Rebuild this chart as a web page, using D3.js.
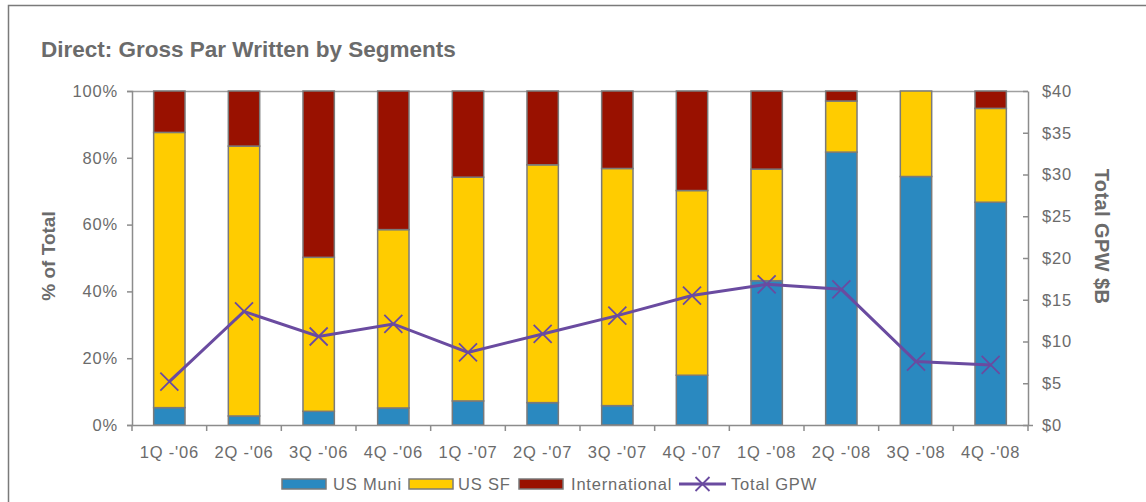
<!DOCTYPE html>
<html><head><meta charset="utf-8">
<script src="https://cdn.jsdelivr.net/npm/d3@7/dist/d3.min.js"></script>
<style>
body{margin:0;background:#fff;}
svg{display:block;font-family:"Liberation Sans",Arial,sans-serif;}
</style></head>
<body><svg id="c" width="1146" height="502"></svg>
<script>
const categories = ["1Q -'06","2Q -'06","3Q -'06","4Q -'06","1Q -'07","2Q -'07","3Q -'07","4Q -'07","1Q -'08","2Q -'08","3Q -'08","4Q -'08"];
const usMuni = [5.2, 2.7, 4.1, 5.1, 7.2, 6.7, 5.8, 14.9, 43.2, 81.7, 74.4, 66.7];
const usSF   = [82.4, 80.8, 46.1, 53.4, 67.0, 71.2, 71.0, 55.3, 33.4, 15.3, 25.6, 28.1];
const international = usMuni.map((m,i)=>+(100 - m - usSF[i]).toFixed(1));
const totalGPW = [5.2, 13.6, 10.6, 12.1, 8.7, 10.9, 13.1, 15.5, 16.85, 16.25, 7.6, 7.2];
const leftTicks = [0,20,40,60,80,100];
const rightTicks = [0,5,10,15,20,25,30,35,40];
const seriesNames = ["US Muni","US SF","International"];
const colors = {"US Muni":"#2A89C0","US SF":"#FFCC00","International":"#991100"};
const lineColor = "#6A4BA0";
const textColor = "#6B6B6B";
const axisColor = "#8C8C8C";
const FS = 16.5, LS = 0.8;

const svg = d3.select("#c");
const L=132, R=1028, T=91, B=425;

// outer border
svg.append("rect").attr("x",8.5).attr("y",5.5).attr("width",1160).attr("height",520)
  .attr("fill","none").attr("stroke","#7a7a7a").attr("stroke-width",1.5);

svg.append("text").attr("x",41).attr("y",57).attr("fill",textColor)
  .attr("font-size",22.5).attr("font-weight","bold")
  .text("Direct: Gross Par Written by Segments");

const x = d3.scaleBand().domain(categories).range([L,R]).paddingInner(0.58).paddingOuter(0.29);
const xb = d3.scaleBand().domain(categories).range([L,R]);
const yL = d3.scaleLinear().domain([0,100]).range([B,T]);
const yR = d3.scaleLinear().domain([0,40]).range([B,T]);

// top line at 100%
svg.append("line").attr("x1",L).attr("x2",R).attr("y1",T+0.5).attr("y2",T+0.5)
  .attr("stroke","#a0a0a0").attr("stroke-width",1.5);

const rows = categories.map((c,i)=>({cat:c,"US Muni":usMuni[i],"US SF":usSF[i],"International":international[i]}));
const stack = d3.stack().keys(seriesNames)(rows);
svg.append("g").selectAll("g").data(stack).join("g")
  .attr("fill",d=>colors[d.key])
  .selectAll("rect").data(d=>d).join("rect")
  .attr("x",d=>x(d.data.cat)).attr("width",x.bandwidth())
  .attr("y",d=>yL(Math.min(100,d[1]))).attr("height",d=>Math.max(0,yL(d[0])-yL(Math.min(100,d[1]))))
  .attr("stroke","#7a7a7a").attr("stroke-width",1.5);

// axes
const gl = svg.append("g").attr("transform",`translate(${L},0)`)
  .call(d3.axisLeft(yL).tickValues(leftTicks).tickFormat(d=>d+"%").tickSize(5).tickPadding(9));
const gr = svg.append("g").attr("transform",`translate(${R},0)`)
  .call(d3.axisRight(yR).tickValues(rightTicks).tickFormat(d=>"$"+d).tickSizeInner(-5).tickSizeOuter(0).tickPadding(14));
const gx = svg.append("g").attr("transform",`translate(0,${B})`)
  .call(d3.axisBottom(xb).tickSize(0).tickPadding(21));
gx.selectAll(".tick line").remove();
// boundary ticks on x axis
svg.append("g").selectAll("line").data(d3.range(categories.length+1)).join("line")
  .attr("x1",i=>L+i*xb.step()).attr("x2",i=>L+i*xb.step())
  .attr("y1",B).attr("y2",B+6).attr("stroke",axisColor).attr("stroke-width",1.5);
[gl,gr,gx].forEach(g=>{
  g.selectAll(".domain").attr("stroke",axisColor).attr("stroke-width",1.5);
  g.selectAll(".tick line").attr("stroke",axisColor).attr("stroke-width",1.5);
  g.selectAll("text").attr("fill",textColor).attr("font-size",FS).attr("font-family","Liberation Sans, Arial, sans-serif").attr("letter-spacing",LS);
});
gr.selectAll(".tick line").attr("x1",-5).attr("x2",0);
gr.selectAll(".tick").filter(d=>d===0).select("line").attr("x1",-5).attr("x2",5);

// axis titles
svg.append("text").attr("transform","translate(55,256) rotate(-90)").attr("text-anchor","middle")
  .attr("fill",textColor).attr("font-size",19).attr("font-weight","bold").text("% of Total");
svg.append("text").attr("transform","translate(1095,236.5) rotate(90)").attr("text-anchor","middle")
  .attr("fill",textColor).attr("font-size",20).attr("font-weight","bold").attr("letter-spacing",0.4).text("Total GPW $B");

// line
const cx = c=>xb(c)+xb.bandwidth()/2;
svg.append("path").datum(totalGPW).attr("fill","none").attr("stroke",lineColor).attr("stroke-width",3)
  .attr("d",d3.line().x((d,i)=>cx(categories[i])).y(d=>yR(d)));
const s=9;
svg.append("g").selectAll("path").data(totalGPW).join("path")
  .attr("d",(d,i)=>{const px=cx(categories[i]),py=yR(d);return `M${px-s},${py-s}L${px+s},${py+s}M${px-s},${py+s}L${px+s},${py-s}`;})
  .attr("stroke",lineColor).attr("stroke-width",1.8).attr("fill","none");

// legend
const leg = svg.append("g");
const legItems = [
  {name:"US Muni",type:"rect",sx:282,tx:333},
  {name:"US SF",type:"rect",sx:409,tx:458},
  {name:"International",type:"rect",sx:519,tx:571},
  {name:"Total GPW",type:"line",sx:679,tx:731}
];
const ly=484;
legItems.forEach(it=>{
  if(it.type==="rect"){
    leg.append("rect").attr("x",it.sx).attr("y",ly-5).attr("width",44).attr("height",10)
      .attr("fill",colors[it.name]).attr("stroke","#7a7a7a").attr("stroke-width",1.5);
  } else {
    leg.append("line").attr("x1",it.sx).attr("x2",it.sx+47).attr("y1",ly).attr("y2",ly)
      .attr("stroke",lineColor).attr("stroke-width",3);
    const px=it.sx+23.5;
    leg.append("path").attr("d",`M${px-7},${ly-7}L${px+7},${ly+7}M${px-7},${ly+7}L${px+7},${ly-7}`)
      .attr("stroke",lineColor).attr("stroke-width",1.8);
  }
  leg.append("text").attr("x",it.tx).attr("y",ly+6).attr("fill",textColor).attr("font-size",FS)
    .attr("letter-spacing",LS).text(it.name);
});
</script></body></html>
